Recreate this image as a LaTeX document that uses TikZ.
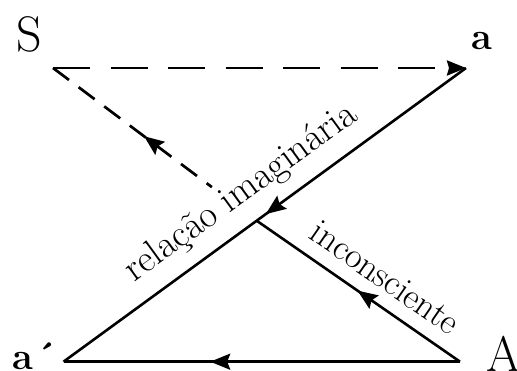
\documentclass[tikz,border=0pt]{standalone}
\usetikzlibrary{arrows.meta,decorations.markings,calc}
\begin{document}
\begin{tikzpicture}[x=1pt,y=1pt,
  solidline/.style={line width=2.6pt},
  dashh/.style={line width=2.7pt, dash pattern=on 37pt off 20.5pt},
  dashd/.style={line width=2.7pt, dash pattern=on 20pt off 12pt},
  fwdarrow/.style={postaction={decorate},decoration={markings,
     mark=at position #1 with {\arrow{Stealth[length=20pt,width=16pt,inset=3pt]}}}},
  revarrow/.style={postaction={decorate},decoration={markings,
     mark=at position #1 with {\arrowreversed{Stealth[length=20pt,width=16pt,inset=3pt]}}}},
  biglabel/.style={font=\fontsize{50}{50}\selectfont, anchor=base, inner sep=0pt},
  smalllabel/.style={font=\bfseries\fontsize{38}{38}\selectfont, anchor=base, inner sep=0pt},
  pathtext/.style={font=\fontsize{38}{38}\selectfont, anchor=base, inner sep=0pt}
]
\useasboundingbox (0,0) rectangle (517,371);
\coordinate (S) at (53,303);
\coordinate (a) at (466,303);
\coordinate (ap) at (63.5,9.3);
\coordinate (A) at (460,9.3);
\coordinate (X) at ($(a)!0.52!(ap)$);
\coordinate (D) at ($(S)!0.78!(X)$);
\coordinate (P1) at ($(ap)!0.488!(a)$);
\coordinate (T1) at ($(P1)!22pt!90:(a)$);
\coordinate (P2) at ($(X)!0.558!(A)$);
\coordinate (T2) at ($(P2)!15pt!90:(A)$);

\draw[dashh, -{Stealth[length=19pt,width=15pt,inset=2pt]}] (S) -- (a);
\draw[dashd, revarrow=0.573] (S) -- (D);
\draw[solidline, fwdarrow=0.4975] (a) -- (ap);
\draw[solidline, fwdarrow=0.504] (A) -- (X);
\draw[solidline, fwdarrow=0.63] (A) -- (ap);

\node[biglabel] (Slab) at (29.5,319) {S};
\node[smalllabel] (alab) at (482,321) {a};
\node[smalllabel, anchor=base west] (aplab) at (12,1) {a\kern3pt\textasciiacute};
\node[biglabel] (Alab) at (504,-1) {A};

\node[pathtext, rotate=36.05] (t1) at (T1) {relação imaginária};
\node[pathtext, font=\fontsize{36}{36}\selectfont, rotate=-34.7] (t2) at (T2) {inconsciente};
\end{tikzpicture}
\end{document}
